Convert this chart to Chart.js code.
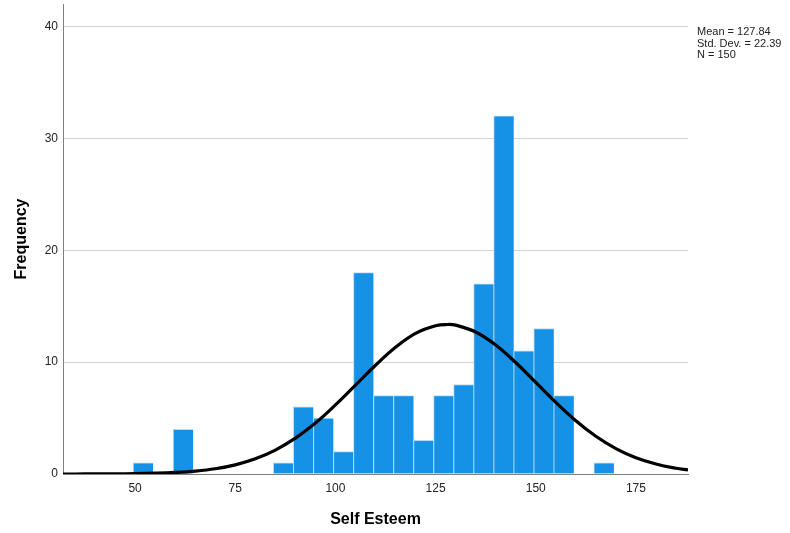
<!DOCTYPE html>
<html>
<head>
<meta charset="utf-8">
<script src="https://cdn.jsdelivr.net/npm/chart.js@4/dist/chart.umd.min.js"></script>
<style>
    body { margin: 0; background: #fff; }
</style>
</head>
<body>
<canvas id="histo" width="790" height="533"></canvas>
<script>
// Bins (centre of each 5-point bin) and counts.
const binCentres = [52, 62, 87, 92, 97, 102, 107, 112, 117, 122, 127, 132, 137, 142, 147, 152, 157, 167];
const binCounts = [1, 4, 1, 6, 5, 2, 18, 7, 7, 3, 7, 8, 17, 32, 11, 13, 7, 1];

// Normal curve, values.
const curveX = [32, 35, 40, 45, 50, 55, 60, 65, 70, 75, 80, 85, 90, 95, 100, 105, 110, 115, 120, 125, 128, 130, 135, 140, 145, 150, 155, 160, 165, 170, 175, 180, 185, 188];
const curveY = [0.00, 0.00, 0.01, 0.01, 0.03, 0.07, 0.14, 0.26, 0.47, 0.82, 1.36, 2.14, 3.20, 4.55, 6.17, 7.94, 9.72, 11.33, 12.57, 13.25, 13.36, 13.30, 12.69, 11.53, 9.96, 8.19, 6.40, 4.76, 3.37, 2.27, 1.45, 0.89, 0.51, 0.36];

const xTicks = [50, 75, 100, 125, 150, 175];
const yTicks = [0, 10, 20, 30, 40];

const statsLines = ['Mean = 127.84', 'Std. Dev. = 22.39', 'N = 150'];

const FONT = '"Liberation Sans", Arial, sans-serif';

//? Stats text on the right.
const statsPlugin = {
    id: 'stats',
    afterDraw(chart) {
        const ctx = chart.ctx;
        ctx.save();
        ctx.font = '11px ' + FONT;
        ctx.fillStyle = '#222';
        ctx.textBaseline = 'middle';
        ctx.textAlign = 'left';
        statsLines.forEach((line, i) => {
            ctx.fillText(line, chart.chartArea.right + 9, 32 + i * 11.5);
        });
        ctx.restore();
    }
};

const barPoints = binCentres.map((c, i) => ({ x: c, y: binCounts[i] }));
const curvePoints = curveX.map((x, i) => ({ x: x, y: curveY[i] }));

new Chart(document.getElementById('histo').getContext('2d'), {
    type: 'bar',
    data: {
        datasets: [
            {
                type: 'line',
                data: curvePoints,
                borderColor: '#000',
                borderWidth: 3.2,
                pointRadius: 0,
                tension: 0.4,
                fill: false,
                order: 0,
            },
            {
                type: 'bar',
                data: barPoints,
                backgroundColor: '#1591e6',
                borderColor: '#b3dbf7',
                borderWidth: { top: 1, left: 1, right: 0, bottom: 0 },
                borderSkipped: false,
                barPercentage: 1,
                categoryPercentage: 1,
                order: 1,
            },
        ],
    },
    options: {
        responsive: false,
        animation: false,
        layout: { padding: { top: 4, right: 102, left: 0, bottom: 0 } },
        plugins: {
            legend: { display: false },
            tooltip: { enabled: false },
        },
        scales: {
            x: {
                type: 'linear',
                min: 32,
                max: 188,
                offset: false,
                afterBuildTicks: (scale) => { scale.ticks = xTicks.map(v => ({ value: v })); },
                afterFit: (scale) => {
                    scale.height = 59;
                    scale.paddingLeft = 0;
                    scale.paddingRight = 0;
                },
                grid: { drawOnChartArea: false, drawTicks: false },
                border: { display: true, color: '#808080', width: 1 },
                ticks: { padding: 7, color: '#222', font: { size: 12, family: FONT } },
                title: {
                    display: true,
                    text: 'Self Esteem',
                    color: '#000',
                    font: { size: 16, weight: 'bold', family: FONT },
                    padding: { top: 0, bottom: 4 },
                },
            },
            y: {
                min: 0,
                max: 42,
                afterBuildTicks: (scale) => { scale.ticks = yTicks.map(v => ({ value: v })); },
                afterFit: (scale) => {
                    scale.width = 63;
                    scale.paddingTop = 0;
                    scale.paddingBottom = 0;
                },
                grid: { color: '#d2d2d2', drawTicks: false },
                border: { display: true, color: '#808080', width: 1 },
                ticks: { padding: 5, color: '#222', font: { size: 12, family: FONT } },
                title: {
                    display: true,
                    text: 'Frequency',
                    color: '#000',
                    font: { size: 16, weight: 'bold', family: FONT },
                    padding: { top: 12, bottom: 0 },
                },
            },
        },
    },
    plugins: [statsPlugin],
});
</script>
</body>
</html>
